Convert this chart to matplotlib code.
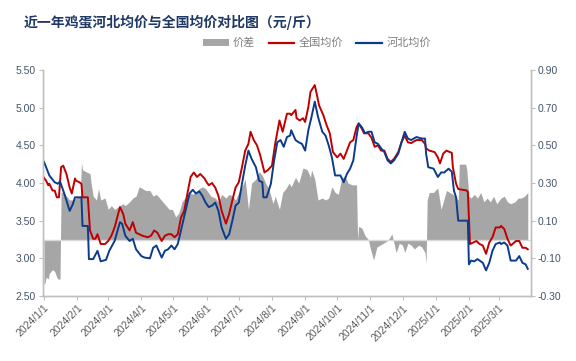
import matplotlib
matplotlib.use("Agg")
import matplotlib.pyplot as plt
import matplotlib.dates as mdates
from matplotlib.patches import Patch
from matplotlib.lines import Line2D
import pandas as pd

plt.rcParams['font.family'] = ['Liberation Sans', 'Noto Sans CJK SC', 'DejaVu Sans']

title = "近一年鸡蛋河北均价与全国均价对比图（元/斤）"
legend_labels = ["价差", "全国均价", "河北均价"]

# 河北均价 (blue)
hb_dates = ['2024-01-01', '2024-01-03', '2024-01-06', '2024-01-11', '2024-01-14', '2024-01-16', '2024-01-18',
            '2024-01-20', '2024-01-25', '2024-01-28', '2024-01-30', '2024-02-05', '2024-02-06', '2024-02-11',
            '2024-02-12', '2024-02-16', '2024-02-20', '2024-02-23', '2024-02-28', '2024-03-02', '2024-03-07',
            '2024-03-12', '2024-03-14', '2024-03-16', '2024-03-17', '2024-03-21', '2024-03-24', '2024-03-27',
            '2024-04-01', '2024-04-04', '2024-04-09', '2024-04-12', '2024-04-15', '2024-04-20', '2024-04-23',
            '2024-04-26', '2024-04-29', '2024-05-02', '2024-05-05', '2024-05-08', '2024-05-13', '2024-05-16',
            '2024-05-19', '2024-05-22', '2024-05-25', '2024-05-28', '2024-05-31', '2024-06-03', '2024-06-06',
            '2024-06-09', '2024-06-12', '2024-06-15', '2024-06-19', '2024-06-22', '2024-06-25', '2024-06-28',
            '2024-07-01', '2024-07-04', '2024-07-07', '2024-07-10', '2024-07-13', '2024-07-17', '2024-07-20',
            '2024-07-23', '2024-07-24', '2024-07-27', '2024-07-31', '2024-08-03', '2024-08-06', '2024-08-09',
            '2024-08-12', '2024-08-15', '2024-08-18', '2024-08-19', '2024-08-23', '2024-08-26', '2024-08-29',
            '2024-09-01', '2024-09-04', '2024-09-07', '2024-09-10', '2024-09-13', '2024-09-17', '2024-09-20',
            '2024-09-23', '2024-09-26', '2024-09-29', '2024-10-04', '2024-10-07', '2024-10-10', '2024-10-13',
            '2024-10-16', '2024-10-19', '2024-10-21', '2024-10-24', '2024-10-27', '2024-10-30', '2024-11-02',
            '2024-11-05', '2024-11-08', '2024-11-11', '2024-11-14', '2024-11-17', '2024-11-20', '2024-11-23',
            '2024-11-27', '2024-11-30', '2024-12-03', '2024-12-06', '2024-12-09', '2024-12-14', '2024-12-19',
            '2024-12-22', '2024-12-23', '2024-12-25', '2024-12-30', '2025-01-03', '2025-01-06', '2025-01-09',
            '2025-01-13', '2025-01-16', '2025-01-18', '2025-01-20', '2025-01-22', '2025-01-31', '2025-02-01',
            '2025-02-03', '2025-02-06', '2025-02-09', '2025-02-14', '2025-02-17', '2025-02-20', '2025-02-23',
            '2025-02-26', '2025-03-02', '2025-03-03', '2025-03-06', '2025-03-09', '2025-03-12', '2025-03-17',
            '2025-03-20', '2025-03-23', '2025-03-26', '2025-03-28']
hb_price = [4.28, 4.21, 4.10, 4.01, 3.99, 4.02, 3.94,
            3.86, 3.63, 3.72, 3.81, 3.81, 3.43, 3.43,
            2.99, 2.99, 3.10, 2.96, 2.98, 3.10, 3.23,
            3.48, 3.46, 3.35, 3.30, 3.23, 3.26, 3.12,
            3.03, 3.01, 3.00, 3.14, 3.17, 3.01, 3.10,
            3.12, 3.17, 3.12, 3.19, 3.37, 3.68, 3.86,
            3.91, 3.86, 3.89, 3.83, 3.74, 3.68, 3.70,
            3.74, 3.63, 3.41, 3.26, 3.32, 3.50, 3.70,
            3.74, 3.99, 4.23, 4.43, 4.32, 4.21, 4.03,
            4.01, 3.81, 3.81, 3.99, 4.30, 4.54, 4.57,
            4.48, 4.61, 4.63, 4.70, 4.57, 4.54, 4.52,
            4.43, 4.70, 4.88, 5.08, 4.88, 4.68, 4.63,
            4.50, 4.34, 4.10, 4.10, 4.01, 4.12, 4.19,
            4.30, 4.61, 4.79, 4.74, 4.66, 4.68, 4.68,
            4.54, 4.52, 4.46, 4.41, 4.30, 4.26, 4.30,
            4.39, 4.54, 4.68, 4.59, 4.57, 4.61, 4.59,
            4.59, 4.39, 4.21, 4.19, 4.08, 4.14, 4.14,
            4.19, 4.15, 3.90, 3.81, 3.50, 3.50, 2.92,
            2.97, 2.96, 2.99, 2.94, 2.84, 2.94, 3.10,
            3.19, 3.21, 3.19, 3.21, 3.17, 2.97, 2.97,
            3.03, 2.94, 2.92, 2.86]

# 全国均价 (red)
qg_dates = ['2024-01-01', '2024-01-03', '2024-01-05', '2024-01-06', '2024-01-09', '2024-01-11', '2024-01-13',
            '2024-01-15', '2024-01-17', '2024-01-19', '2024-01-22', '2024-01-25', '2024-01-27', '2024-01-30',
            '2024-01-31', '2024-02-03', '2024-02-05', '2024-02-06', '2024-02-11', '2024-02-13', '2024-02-16',
            '2024-02-18', '2024-02-20', '2024-02-23', '2024-02-27', '2024-03-01', '2024-03-04', '2024-03-07',
            '2024-03-12', '2024-03-15', '2024-03-17', '2024-03-21', '2024-03-24', '2024-03-27', '2024-03-30',
            '2024-04-02', '2024-04-07', '2024-04-10', '2024-04-13', '2024-04-16', '2024-04-20', '2024-04-23',
            '2024-04-26', '2024-04-29', '2024-05-02', '2024-05-05', '2024-05-08', '2024-05-11', '2024-05-14',
            '2024-05-17', '2024-05-20', '2024-05-23', '2024-05-26', '2024-05-30', '2024-06-01', '2024-06-03',
            '2024-06-06', '2024-06-09', '2024-06-12', '2024-06-15', '2024-06-19', '2024-06-22', '2024-06-25',
            '2024-06-28', '2024-07-01', '2024-07-04', '2024-07-07', '2024-07-10', '2024-07-12', '2024-07-15',
            '2024-07-18', '2024-07-21', '2024-07-25', '2024-07-28', '2024-08-01', '2024-08-04', '2024-08-08',
            '2024-08-11', '2024-08-15', '2024-08-18', '2024-08-19', '2024-08-23', '2024-08-24', '2024-08-27',
            '2024-08-30', '2024-09-01', '2024-09-04', '2024-09-06', '2024-09-10', '2024-09-12', '2024-09-14',
            '2024-09-18', '2024-09-21', '2024-09-24', '2024-09-27', '2024-10-01', '2024-10-04', '2024-10-07',
            '2024-10-10', '2024-10-13', '2024-10-16', '2024-10-19', '2024-10-21', '2024-10-24', '2024-10-26',
            '2024-10-30', '2024-11-02', '2024-11-05', '2024-11-08', '2024-11-11', '2024-11-14', '2024-11-17',
            '2024-11-20', '2024-11-23', '2024-11-27', '2024-11-30', '2024-12-03', '2024-12-06', '2024-12-09',
            '2024-12-14', '2024-12-19', '2024-12-22', '2024-12-23', '2024-12-26', '2024-12-31', '2025-01-03',
            '2025-01-05', '2025-01-08', '2025-01-11', '2025-01-16', '2025-01-17', '2025-01-20', '2025-01-22',
            '2025-01-30', '2025-01-31', '2025-02-02', '2025-02-05', '2025-02-08', '2025-02-11', '2025-02-14',
            '2025-02-17', '2025-02-20', '2025-02-23', '2025-02-26', '2025-03-02', '2025-03-03', '2025-03-06',
            '2025-03-09', '2025-03-12', '2025-03-17', '2025-03-20', '2025-03-23', '2025-03-26', '2025-03-28']
qg_price = [4.07, 4.03, 3.97, 3.99, 3.90, 3.90, 3.81,
            3.81, 4.21, 4.23, 4.12, 3.94, 3.86, 4.06,
            4.03, 4.01, 3.99, 3.81, 3.81, 3.37, 3.26,
            3.26, 3.32, 3.19, 3.19, 3.23, 3.30, 3.41,
            3.68, 3.59, 3.46, 3.37, 3.48, 3.34, 3.32,
            3.30, 3.28, 3.30, 3.37, 3.34, 3.23, 3.30,
            3.32, 3.32, 3.28, 3.32, 3.54, 3.63, 3.86,
            4.08, 4.14, 4.08, 4.12, 4.06, 4.01, 3.97,
            4.00, 3.94, 3.83, 3.63, 3.46, 3.59, 3.77,
            3.94, 4.01, 4.21, 4.43, 4.52, 4.68, 4.57,
            4.50, 4.37, 4.14, 4.17, 4.23, 4.52, 4.83,
            4.68, 4.92, 4.92, 4.90, 4.97, 4.86, 4.83,
            4.86, 4.81, 5.01, 5.21, 5.30, 5.17, 5.03,
            4.90, 4.77, 4.66, 4.41, 4.34, 4.39, 4.32,
            4.43, 4.54, 4.57, 4.74, 4.79, 4.72, 4.66,
            4.66, 4.60, 4.48, 4.50, 4.43, 4.43, 4.32,
            4.28, 4.32, 4.41, 4.54, 4.63, 4.54, 4.53,
            4.57, 4.57, 4.52, 4.46, 4.43, 4.41, 4.34,
            4.26, 4.39, 4.43, 4.40, 4.21, 3.99, 3.92,
            3.90, 3.88, 3.19, 3.21, 3.23, 3.19, 3.17,
            3.06, 3.21, 3.28, 3.41, 3.41, 3.43, 3.39,
            3.26, 3.17, 3.23, 3.23, 3.14, 3.14, 3.12]

# 价差 (gray area, right axis)
diff_dates = ['2024-01-01', '2024-01-02', '2024-01-03', '2024-01-05', '2024-01-06', '2024-01-09', '2024-01-11',
              '2024-01-13', '2024-01-14', '2024-01-16', '2024-01-17', '2024-01-19', '2024-01-22', '2024-01-25',
              '2024-01-28', '2024-01-31', '2024-02-03', '2024-02-04', '2024-02-05', '2024-02-06', '2024-02-09',
              '2024-02-13', '2024-02-14', '2024-02-16', '2024-02-19', '2024-02-21', '2024-02-23', '2024-02-27',
              '2024-03-01', '2024-03-04', '2024-03-07', '2024-03-12', '2024-03-15', '2024-03-17', '2024-03-21',
              '2024-03-24', '2024-03-27', '2024-03-30', '2024-04-02', '2024-04-05', '2024-04-09', '2024-04-12',
              '2024-04-15', '2024-04-18', '2024-04-21', '2024-04-24', '2024-04-27', '2024-04-30', '2024-05-03',
              '2024-05-06', '2024-05-09', '2024-05-13', '2024-05-16', '2024-05-19', '2024-05-22', '2024-05-25',
              '2024-05-28', '2024-05-31', '2024-06-05', '2024-06-09', '2024-06-12', '2024-06-15', '2024-06-19',
              '2024-06-22', '2024-06-25', '2024-06-28', '2024-07-01', '2024-07-04', '2024-07-07', '2024-07-10',
              '2024-07-13', '2024-07-17', '2024-07-20', '2024-07-23', '2024-07-26', '2024-07-29', '2024-08-02',
              '2024-08-04', '2024-08-08', '2024-08-11', '2024-08-14', '2024-08-17', '2024-08-19', '2024-08-23',
              '2024-08-26', '2024-08-29', '2024-08-30', '2024-09-03', '2024-09-06', '2024-09-07', '2024-09-10',
              '2024-09-13', '2024-09-17', '2024-09-20', '2024-09-23', '2024-09-26', '2024-09-29', '2024-10-02',
              '2024-10-05', '2024-10-08', '2024-10-11', '2024-10-15', '2024-10-19', '2024-10-20', '2024-10-21',
              '2024-10-24', '2024-10-27', '2024-10-30', '2024-11-01', '2024-11-04', '2024-11-07', '2024-11-10',
              '2024-11-13', '2024-11-16', '2024-11-19', '2024-11-21', '2024-11-23', '2024-11-25', '2024-11-28',
              '2024-12-01', '2024-12-03', '2024-12-06', '2024-12-09', '2024-12-12', '2024-12-16', '2024-12-19',
              '2024-12-22', '2024-12-23', '2024-12-24', '2024-12-26', '2024-12-30', '2025-01-02', '2025-01-03',
              '2025-01-06', '2025-01-08', '2025-01-11', '2025-01-14', '2025-01-17', '2025-01-19', '2025-01-22',
              '2025-01-23', '2025-01-29', '2025-01-30', '2025-02-01', '2025-02-03', '2025-02-06', '2025-02-09',
              '2025-02-12', '2025-02-15', '2025-02-18', '2025-02-21', '2025-02-24', '2025-02-27', '2025-03-03',
              '2025-03-06', '2025-03-09', '2025-03-12', '2025-03-16', '2025-03-19', '2025-03-22', '2025-03-25',
              '2025-03-28']
diff_vals = [-0.24, -0.23, -0.20, -0.21, -0.18, -0.16, -0.17,
             -0.20, -0.21, -0.21, 0.25, 0.25, 0.23, 0.21,
             0.21, 0.22, 0.23, 0.23, 0.41, 0.37, 0.36,
             0.35, 0.30, 0.23, 0.21, 0.27, 0.21, 0.22,
             0.16, 0.18, 0.16, 0.18, 0.19, 0.18, 0.20,
             0.22, 0.23, 0.28, 0.27, 0.26, 0.26, 0.23,
             0.24, 0.22, 0.20, 0.18, 0.16, 0.16, 0.12,
             0.14, 0.20, 0.23, 0.25, 0.24, 0.25, 0.27,
             0.28, 0.27, 0.23, 0.22, 0.20, 0.24, 0.22,
             0.24, 0.23, 0.21, 0.25, 0.28, 0.32, 0.16,
             0.30, 0.32, 0.36, 0.34, 0.30, 0.27, 0.19,
             0.23, 0.16, 0.25, 0.27, 0.30, 0.28, 0.33,
             0.30, 0.36, 0.38, 0.37, 0.33, 0.37, 0.32,
             0.21, 0.22, 0.21, 0.22, 0.28, 0.25, 0.24,
             0.32, 0.34, 0.30, 0.29, 0.29, 0.00, 0.07,
             0.06, 0.02, 0.00, -0.05, -0.11, -0.04, -0.03,
             -0.02, -0.01, 0.01, 0.03, -0.02, -0.07, -0.02,
             -0.03, -0.07, -0.02, -0.03, -0.05, -0.03, -0.04,
             -0.07, -0.13, 0.21, 0.25, 0.25, 0.27, 0.27,
             0.16, 0.20, 0.26, 0.25, 0.24, 0.23, 0.21,
             0.40, 0.40, 0.37, 0.23, 0.22, 0.24, 0.22,
             0.25, 0.20, 0.22, 0.20, 0.23, 0.19, 0.22,
             0.23, 0.20, 0.19, 0.20, 0.22, 0.22, 0.23,
             0.25]

left_ticks = [2.50, 3.00, 3.50, 4.00, 4.50, 5.00, 5.50]
right_ticks = [-0.30, -0.10, 0.10, 0.30, 0.50, 0.70, 0.90]
month_ticks = pd.date_range('2024-01-01', '2025-03-01', freq='MS')

hb_d = pd.to_datetime(hb_dates)
qg_d = pd.to_datetime(qg_dates)
df_d = pd.to_datetime(diff_dates)

RED = '#c00000'
BLUE = '#0b3b8c'
GRAY = '#a6a6a6'
AXC = '#bfbfbf'
TXT = '#44546a'

fig = plt.figure(figsize=(5.76, 3.61), dpi=100)
ax = fig.add_axes([43/576, 1-296/361, (531-43)/576, (296-70)/361])
ax2 = ax.twinx()

ax2.fill_between(df_d, diff_vals, 0, color=GRAY, lw=0)
ax2.axhline(0, color='#d9d9d9', lw=1)
ax2.set_ylim(-0.30, 0.90)
ax2.set_yticks(right_ticks)
ax2.set_yticklabels([f"{v:.2f}" for v in right_ticks])

ax.plot(qg_d, qg_price, color=RED, lw=1.4)
ax.plot(hb_d, hb_price, color=BLUE, lw=1.4)
ax.set_ylim(2.5, 5.5)
ax.set_yticks(left_ticks)
ax.set_yticklabels([f"{v:.2f}" for v in left_ticks])

ax.set_zorder(ax2.get_zorder() + 1)
ax.patch.set_visible(False)

x0 = pd.Timestamp('2024-01-01') - pd.Timedelta(days=0.9)
x1 = pd.Timestamp('2025-03-31')
ax.set_xlim(x0, x1)
ax.set_xticks(month_ticks)
ax.set_xticklabels([f"{d.year}/{d.month}/{d.day}" for d in month_ticks],
                   rotation=45, ha='right', rotation_mode='anchor')

for a in (ax, ax2):
    a.spines['top'].set_visible(False)
    for s in ('left', 'right', 'bottom'):
        a.spines[s].set_color(AXC)
        a.spines[s].set_linewidth(1)
ax.tick_params(axis='y', length=3, color=AXC, labelsize=7.5, labelcolor=TXT, pad=2)
ax2.tick_params(axis='y', length=3, color=AXC, labelsize=7.5, labelcolor=TXT, pad=2)
ax.tick_params(axis='x', length=3, color=AXC, labelsize=7.5, labelcolor='#595959', pad=2)

fig.text(24/576, 1-22/361, title, fontsize=10, fontweight='bold', color='#1f3864',
         family=['Noto Sans CJK SC'], va='center', ha='left')

handles = [Patch(facecolor=GRAY, edgecolor='none'),
           Line2D([0], [0], color=RED, lw=1.6),
           Line2D([0], [0], color=BLUE, lw=1.6)]
leg = fig.legend(handles, legend_labels, loc='center', bbox_to_anchor=(317/576, 1-43/361),
                 ncol=3, frameon=False, handlelength=2.3, handleheight=0.5,
                 columnspacing=1.2, handletextpad=0.4,
                 prop={'family': ['Noto Sans CJK SC'], 'size': 8})
for t in leg.get_texts():
    t.set_color('#7f7f7f')

fig.savefig('out.png', dpi=100)
